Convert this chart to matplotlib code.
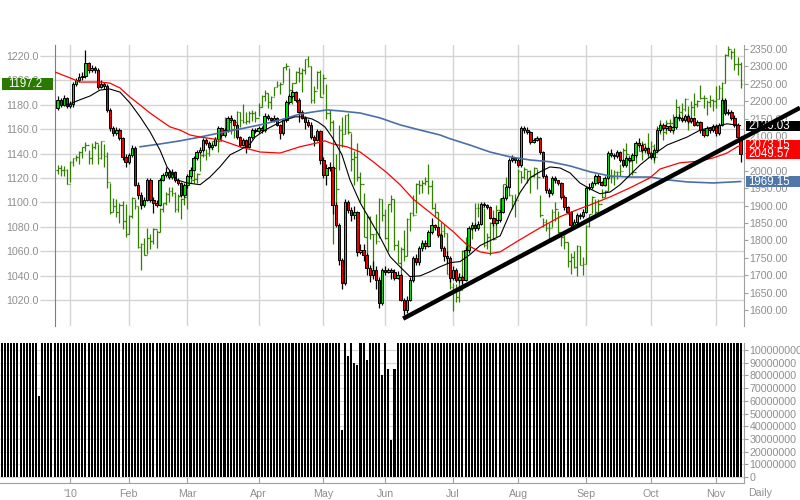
import numpy as np
import pandas as pd
import matplotlib
matplotlib.use('Agg')
import matplotlib.pyplot as plt
import matplotlib.transforms as mtransforms
from matplotlib.patches import Rectangle

plt.rcParams['font.family'] = ['Liberation Sans', 'DejaVu Sans']

# trading days, Dec 1 2009 .. Nov 11 2010 (x = day number, Jan 4 = 0)
holidays = ['2009-12-25', '2010-01-01', '2010-01-18', '2010-02-15',
            '2010-04-02', '2010-05-31', '2010-07-05', '2010-09-06']
days = pd.bdate_range('2009-12-01', '2010-11-11')
days = days[~days.isin(pd.to_datetime(holidays))]
first = list(days).index(pd.Timestamp('2010-01-04'))
pos = np.arange(len(days)) - first

month_names = ["'10", 'Feb', 'Mar', 'Apr', 'May', 'Jun', 'Jul', 'Aug', 'Sep', 'Oct', 'Nov']

# candles (right axis), Dec 28 2009 .. Nov 11 2010
cndl_close = [2204, 2189, 2209, 2186,
    2192, 2249, 2261, 2270, 2272, 2310, 2290, 2295, 2290, 2241, 2249, 2244, 2175, 2123, 2109, 2117, 2094, 2040, 2026,
    2046, 2066, 1960, 1931, 1902, 1917, 1974, 1917, 1908, 1902, 1974, 1988, 1997, 1982, 1997, 1974, 1965, 1931, 1960,
    1985, 2003, 2037, 2054, 2060, 2089, 2080, 2069, 2074, 2092, 2123, 2103, 2117, 2152, 2146, 2132, 2097, 2074, 2089, 2069, 2097, 2117, 2115,
    2123, 2117, 2158, 2152, 2146, 2152, 2132, 2109, 2146, 2198, 2215, 2226, 2204, 2169, 2152, 2140, 2132, 2097, 2089, 2115, 2031,
    1988, 2008, 2011, 1902, 1845, 1744, 1678, 1911, 1888, 1873, 1882, 1767, 1773, 1759, 1721, 1701, 1716, 1687, 1621, 1716,
    1710, 1716, 1710, 1693, 1701, 1630, 1601, 1630, 1687, 1750, 1739, 1779, 1793, 1785, 1825, 1845, 1839, 1816, 1779, 1756, 1750, 1693,
    1716, 1687, 1696, 1687, 1773, 1836, 1845, 1836, 1848, 1905, 1902, 1896, 1865, 1850, 1859, 1882, 1922, 1954, 2031, 2037, 2031,
    2017, 2123, 2117, 2112, 2083, 2089, 2094, 2054, 1985, 1945, 1937, 1980, 1974, 1965, 1925, 1896, 1882, 1845, 1853, 1873, 1871, 1882,
    1951, 1954, 1965, 1985, 1968, 1960, 1980, 2051, 2046, 2043, 2054, 2031, 2017, 2037, 2031, 2046, 2080, 2074, 2060, 2066, 2051,
    2040, 2060, 2117, 2132, 2123, 2129, 2117, 2126, 2155, 2152, 2146, 2158, 2143, 2152, 2132, 2140, 2117, 2103, 2123, 2117, 2129,
    2109, 2132, 2204, 2166, 2169, 2152, 2132, 2097, 2049.57]
cndl_high = [2214, 2210, 2218, 2212,
    2200, 2255, 2268, 2280, 2285, 2347, 2312, 2305, 2300, 2295, 2262, 2255, 2248, 2180, 2130, 2125, 2122, 2098, 2048,
    2052, 2075, 2070, 1968, 1940, 1925, 1980, 1978, 1925, 1915, 1980, 1995, 2010, 2002, 2005, 2000, 1978, 1968, 1965,
    1990, 2010, 2042, 2060, 2068, 2095, 2094, 2085, 2080, 2098, 2128, 2125, 2122, 2158, 2160, 2150, 2136, 2100, 2095, 2092, 2100, 2122, 2122,
    2130, 2128, 2165, 2162, 2155, 2160, 2156, 2135, 2150, 2202, 2222, 2232, 2228, 2208, 2175, 2158, 2150, 2140, 2104, 2120, 2118,
    2040, 2020, 2025, 2015, 1910, 1850, 1750, 1920, 1915, 1895, 1900, 1885, 1790, 1790, 1765, 1730, 1740, 1725, 1695, 1722,
    1725, 1722, 1720, 1718, 1712, 1705, 1635, 1640, 1695, 1755, 1760, 1785, 1800, 1800, 1830, 1865, 1848, 1842, 1820, 1785, 1770, 1755,
    1725, 1720, 1705, 1700, 1780, 1842, 1852, 1850, 1855, 1910, 1910, 1905, 1898, 1868, 1865, 1888, 1928, 1960, 2036, 2045, 2040,
    2036, 2128, 2130, 2125, 2115, 2095, 2100, 2098, 2058, 1990, 1950, 1985, 1985, 1972, 1968, 1930, 1900, 1885, 1860, 1880, 1880, 1890,
    1955, 1965, 1972, 1990, 1990, 1972, 1985, 2056, 2062, 2050, 2060, 2058, 2035, 2042, 2040, 2050, 2086, 2095, 2080, 2072, 2068,
    2055, 2066, 2122, 2138, 2136, 2135, 2133, 2130, 2160, 2162, 2156, 2164, 2162, 2156, 2156, 2145, 2143, 2120, 2128, 2125, 2134,
    2135, 2138, 2210, 2208, 2178, 2174, 2160, 2136, 2100]
cndl_low = [2176, 2184, 2185, 2180,
    2180, 2184, 2245, 2255, 2262, 2268, 2282, 2285, 2282, 2236, 2238, 2236, 2170, 2115, 2100, 2104, 2088, 2030, 2012,
    2020, 2040, 1955, 1920, 1890, 1895, 1912, 1910, 1880, 1895, 1898, 1970, 1982, 1975, 1975, 1968, 1958, 1925, 1925,
    1950, 1980, 1998, 2030, 2048, 2055, 2075, 2062, 2064, 2070, 2088, 2098, 2098, 2112, 2140, 2128, 2090, 2068, 2070, 2050, 2065, 2092, 2108,
    2108, 2110, 2112, 2145, 2140, 2140, 2128, 2090, 2104, 2140, 2192, 2208, 2198, 2140, 2148, 2120, 2125, 2092, 2072, 2085, 2020,
    1980, 1960, 2000, 1875, 1838, 1730, 1660, 1672, 1880, 1855, 1860, 1755, 1760, 1740, 1700, 1680, 1690, 1660, 1605, 1615,
    1700, 1705, 1690, 1685, 1688, 1625, 1586, 1592, 1625, 1680, 1730, 1730, 1770, 1775, 1780, 1818, 1830, 1810, 1770, 1740, 1735, 1680,
    1685, 1680, 1680, 1675, 1682, 1765, 1830, 1828, 1830, 1845, 1895, 1890, 1860, 1840, 1845, 1852, 1878, 1915, 1950, 2025, 2022,
    2010, 2012, 2110, 2105, 2078, 2080, 2085, 2048, 1978, 1935, 1925, 1930, 1965, 1958, 1918, 1888, 1875, 1838, 1840, 1848, 1862, 1865,
    1878, 1945, 1948, 1960, 1962, 1955, 1955, 1975, 2040, 2035, 2038, 2025, 2010, 2012, 2025, 2028, 2040, 2068, 2055, 2055, 2045,
    2035, 2032, 2055, 2112, 2118, 2118, 2112, 2112, 2120, 2146, 2140, 2140, 2138, 2138, 2128, 2128, 2110, 2098, 2100, 2110, 2112,
    2100, 2104, 2128, 2160, 2160, 2146, 2126, 2090, 2025]
cndl_open = [2181] + cndl_close[:-1]

# green OHLC bars (left axis)
sp_close = [1127.8, 1126.2, 1126.4, 1115.1,
    1133.0, 1136.5, 1137.1, 1141.7, 1145.0, 1147.0, 1136.2, 1145.7, 1148.5, 1136.0, 1150.2, 1138.0, 1116.5, 1091.8, 1096.8, 1092.2, 1097.5, 1084.5, 1073.9,
    1089.2, 1103.3, 1097.3, 1063.1, 1066.2, 1056.7, 1070.5, 1068.1, 1078.5, 1075.5, 1094.9, 1099.5, 1106.8, 1109.2, 1108.0, 1094.6, 1105.2, 1102.9, 1104.5,
    1115.7, 1118.3, 1118.8, 1123.0, 1138.7, 1138.5, 1140.5, 1145.6, 1150.2, 1150.0, 1150.5, 1159.5, 1166.2, 1165.8, 1159.9, 1165.8, 1174.2, 1167.7, 1165.7, 1166.6, 1173.2, 1173.3, 1169.4,
    1178.1, 1187.4, 1189.4, 1182.5, 1186.4, 1194.4, 1196.5, 1197.3, 1210.7, 1211.7, 1192.1, 1197.5, 1207.2, 1205.9, 1208.7, 1217.3, 1212.1, 1183.7, 1191.4, 1206.8, 1186.7,
    1202.3, 1173.6, 1165.9, 1128.2, 1110.9, 1159.7, 1155.8, 1171.7, 1157.4, 1135.7, 1136.9, 1120.8, 1115.1, 1071.6, 1087.7, 1073.7, 1074.0, 1068.0, 1103.1, 1089.4,
    1070.7, 1098.4, 1102.8, 1064.9, 1050.5, 1062.0, 1055.7, 1086.8, 1091.6, 1089.6, 1115.2, 1114.6, 1116.0, 1117.5, 1113.2, 1095.3, 1092.0, 1073.7, 1076.8, 1074.6, 1041.2, 1030.7,
    1027.4, 1022.6, 1028.1, 1060.3, 1070.3, 1078.0, 1078.8, 1095.3, 1095.2, 1096.5, 1064.9, 1071.3, 1083.5, 1069.6, 1093.7, 1102.7, 1115.0, 1113.8, 1106.1, 1101.5, 1101.6,
    1125.9, 1120.5, 1127.2, 1125.8, 1121.6, 1127.8, 1121.1, 1089.5, 1083.6, 1079.3, 1079.4, 1092.5, 1094.2, 1075.6, 1071.7, 1067.4, 1051.9, 1055.3, 1047.2, 1064.6, 1048.9, 1049.3,
    1080.3, 1090.1, 1104.5, 1091.8, 1098.9, 1104.2, 1109.6, 1121.9, 1121.1, 1125.1, 1124.7, 1125.6, 1142.7, 1139.8, 1134.3, 1124.8, 1148.7, 1142.2, 1147.7, 1144.7, 1141.2,
    1146.2, 1137.0, 1160.8, 1160.0, 1158.1, 1165.2, 1165.3, 1169.8, 1178.1, 1173.8, 1176.2, 1184.7, 1165.9, 1178.2, 1180.3, 1183.1, 1185.6, 1185.6, 1182.5, 1183.8, 1183.3,
    1184.4, 1193.6, 1198.0, 1221.1, 1225.9, 1223.3, 1213.4, 1213.5, 1197.2]
sp_high = [1130.4, 1130.4, 1130.0, 1127.6,
    1133.9, 1136.6, 1139.2, 1142.5, 1145.4, 1149.7, 1143.1, 1148.4, 1150.4, 1147.9, 1150.4, 1148.0, 1141.6, 1115.5, 1103.7, 1103.0, 1099.3, 1101.3, 1098.4,
    1089.4, 1104.7, 1102.7, 1097.2, 1067.1, 1071.2, 1079.3, 1073.7, 1078.7, 1077.6, 1095.0, 1099.5, 1108.2, 1112.4, 1112.4, 1108.6, 1107.0, 1103.5, 1107.2,
    1116.1, 1123.7, 1125.6, 1123.7, 1139.4, 1141.1, 1144.0, 1148.3, 1150.2, 1153.4, 1151.0, 1160.3, 1169.6, 1167.1, 1169.2, 1167.8, 1174.7, 1174.2, 1180.7, 1173.9, 1175.0, 1175.9, 1174.9,
    1181.4, 1187.7, 1191.8, 1189.6, 1187.0, 1194.7, 1199.2, 1199.0, 1210.7, 1213.9, 1210.2, 1197.9, 1207.9, 1210.9, 1210.0, 1217.3, 1219.8, 1211.4, 1195.1, 1207.3, 1208.9,
    1205.1, 1197.0, 1175.8, 1167.6, 1139.4, 1163.8, 1170.1, 1171.9, 1173.6, 1157.2, 1141.8, 1148.7, 1124.9, 1107.3, 1090.2, 1089.0, 1074.0, 1090.8, 1103.5, 1102.6,
    1094.8, 1098.4, 1105.7, 1103.0, 1069.1, 1063.3, 1077.7, 1087.0, 1092.2, 1105.9, 1115.6, 1118.7, 1118.7, 1121.0, 1131.2, 1118.5, 1099.6, 1092.0, 1083.6, 1082.6, 1074.6, 1048.1,
    1033.6, 1032.9, 1042.5, 1060.9, 1071.3, 1078.2, 1080.8, 1099.1, 1099.1, 1098.8, 1095.2, 1074.7, 1083.9, 1093.6, 1097.5, 1103.7, 1115.0, 1120.9, 1114.7, 1106.4, 1106.9,
    1127.2, 1125.4, 1128.7, 1126.6, 1126.5, 1129.2, 1127.3, 1105.8, 1086.9, 1086.3, 1082.8, 1094.4, 1100.1, 1092.6, 1075.6, 1073.2, 1067.4, 1058.6, 1059.9, 1065.2, 1064.6, 1055.1,
    1081.3, 1090.1, 1105.1, 1103.1, 1103.1, 1110.9, 1110.0, 1127.4, 1127.6, 1126.5, 1125.8, 1131.5, 1144.4, 1148.9, 1138.5, 1136.1, 1148.9, 1149.9, 1150.0, 1148.6, 1157.2,
    1150.3, 1148.2, 1162.8, 1167.7, 1163.9, 1167.7, 1168.7, 1172.6, 1184.4, 1178.7, 1181.2, 1185.5, 1178.8, 1182.9, 1189.4, 1183.9, 1196.1, 1187.9, 1183.8, 1188.3, 1185.0,
    1195.8, 1196.1, 1198.3, 1221.3, 1227.9, 1224.6, 1226.8, 1218.9, 1215.4]
sp_low = [1123.5, 1121.9, 1122.0, 1114.8,
    1116.6, 1129.7, 1133.9, 1131.3, 1136.2, 1142.0, 1131.4, 1131.4, 1143.8, 1131.4, 1135.7, 1129.3, 1111.4, 1090.3, 1091.8, 1087.9, 1083.1, 1078.0, 1071.6,
    1073.9, 1087.2, 1094.7, 1062.8, 1044.5, 1056.5, 1058.0, 1062.0, 1065.9, 1062.6, 1076.0, 1092.4, 1097.7, 1100.2, 1105.4, 1092.2, 1092.2, 1086.0, 1097.6,
    1094.3, 1115.7, 1116.1, 1116.1, 1125.4, 1137.0, 1135.0, 1138.0, 1143.2, 1147.1, 1141.2, 1150.3, 1159.5, 1161.5, 1156.0, 1152.9, 1163.8, 1161.7, 1165.2, 1164.0, 1165.2, 1166.6, 1165.8,
    1170.7, 1178.0, 1182.8, 1177.7, 1176.6, 1187.2, 1194.7, 1188.5, 1197.9, 1208.5, 1186.0, 1180.3, 1197.7, 1198.9, 1190.6, 1205.1, 1211.2, 1181.6, 1181.8, 1193.3, 1186.3,
    1188.6, 1168.1, 1158.2, 1065.8, 1094.2, 1126.6, 1145.8, 1156.3, 1156.1, 1126.1, 1114.0, 1117.2, 1100.7, 1071.6, 1055.9, 1070.2, 1040.8, 1065.5, 1070.6, 1084.8,
    1069.9, 1060.4, 1091.8, 1060.8, 1050.0, 1042.2, 1052.3, 1056.4, 1076.8, 1089.1, 1091.6, 1106.9, 1107.4, 1113.9, 1106.7, 1094.2, 1088.3, 1071.6, 1071.7, 1071.5, 1041.0, 1028.8,
    1010.9, 1018.4, 1018.4, 1028.3, 1058.2, 1068.1, 1070.0, 1081.0, 1087.7, 1086.7, 1063.3, 1062.0, 1056.9, 1069.3, 1071.6, 1087.9, 1103.5, 1109.2, 1105.1, 1094.7, 1088.0,
    1107.2, 1116.1, 1119.5, 1116.1, 1107.7, 1120.9, 1111.0, 1088.0, 1079.6, 1076.7, 1069.2, 1080.0, 1085.0, 1075.3, 1063.9, 1061.7, 1046.7, 1041.1, 1046.0, 1039.7, 1048.8, 1040.9,
    1049.3, 1080.0, 1091.1, 1090.8, 1091.2, 1103.9, 1104.4, 1109.6, 1115.5, 1114.1, 1118.9, 1122.0, 1131.6, 1132.1, 1121.3, 1122.5, 1132.6, 1142.0, 1134.5, 1140.1, 1136.1,
    1139.4, 1131.9, 1140.7, 1155.7, 1151.4, 1155.7, 1162.0, 1155.7, 1171.3, 1166.7, 1167.1, 1174.9, 1159.7, 1166.7, 1171.2, 1178.2, 1184.8, 1177.7, 1171.7, 1178.4, 1174.6,
    1177.7, 1184.4, 1183.6, 1198.0, 1220.3, 1217.9, 1208.9, 1204.3, 1194.1]
sp_open = [1126.5] + sp_close[:-1]

# moving averages (day number, right-axis value)
ma_black_x = [-1, 3.2, 6.5, 9.7, 12.9, 16.2, 19.4, 22.7, 25.9, 29.1, 31.4, 34.6, 37.9, 42.1, 45.3, 48.5, 51.8, 55, 58.3,
              59.9, 63.1, 66.3, 69.6, 72.8, 75.4, 78.3, 80.3, 82.5, 84.8, 88, 90.6, 93.9, 97.1, 100.3, 103.6, 106.8, 110,
              113.3, 116.5, 119.7, 123, 126.2, 129.4, 132.7, 135.9, 139.2, 142.4, 145.6, 148.9, 152.1, 155.3, 158.6, 161.8,
              165, 168.3, 171.5, 174.8, 178, 181.2, 184.5, 187.7, 193.2, 199.7, 203.9, 208.1, 212.6, 217]
ma_black_y = [2189, 2204, 2215, 2232, 2235, 2226, 2195, 2155, 2112, 2060, 2011, 1974, 1965, 1960, 1982, 2011, 2046, 2060, 2077,
              2097, 2117, 2132, 2146, 2155, 2155, 2149, 2140, 2126, 2097, 2046, 1974, 1908, 1859, 1810, 1753, 1724, 1696,
              1698, 1710, 1724, 1736, 1739, 1759, 1785, 1799, 1813, 1879, 1937, 1980, 1997, 2011, 2008, 1994,
              1965, 1948, 1934, 1939, 1960, 1988, 2017, 2040, 2074, 2097, 2117, 2126, 2135, 2130.03]
ma_red_x = [-4.9, 0, 3.2, 6.5, 9.7, 12.9, 16.2, 19.4, 22.7, 25.9, 29.1, 32.4, 35.6, 38.8, 42.1, 48.5, 55, 61.5, 68, 71.2,
            74.4, 79.9, 82.5, 85.1, 89.6, 93.9, 98.1, 102.6, 106.8, 111, 117.5, 124, 128.5, 132.7, 135.9, 139.2, 145.6,
            152.1, 158.6, 164.1, 168.3, 174.8, 181.2, 187.7, 190.9, 197.4, 203.9, 208.1, 212.6, 215.9, 217]
ma_red_y = [2284, 2267, 2255, 2255, 2255, 2252, 2238, 2212, 2189, 2166, 2146, 2126, 2117, 2103, 2097, 2089, 2069, 2054, 2051, 2060,
            2069, 2080, 2086, 2077, 2069, 2054, 2026, 1994, 1960, 1919, 1873, 1825, 1787, 1767, 1762, 1767, 1802,
            1836, 1868, 1888, 1902, 1925, 1951, 1980, 2005, 2023, 2028, 2037, 2051, 2069, 2073.15]
ma_blue_x = [22.7, 29.1, 35.6, 42.1, 48.5, 55, 61.5, 68, 74.4, 78.6, 83.2, 87.4, 93.9, 100.3, 106.8, 113.3, 119.7, 123,
             129.4, 135.9, 142.4, 148.9, 155.3, 161.8, 168.3, 174.8, 181.2, 187.7, 193.2, 199.7, 208.1, 214.6, 217]
ma_blue_y = [2069, 2077, 2086, 2097, 2109, 2120, 2132, 2146, 2163, 2169, 2175, 2172, 2166, 2152, 2132, 2117, 2103, 2092,
             2074, 2054, 2040, 2031, 2026, 2014, 1997, 1985, 1982, 1982, 1974, 1968, 1965, 1968, 1969.15]

trend_x = [107.8, 236.2]
trend_y = [1575, 2181]

# volume in millions, Dec 1 2009 .. Nov 11 2010 (150 = above the top of the panel)
volume = [150, 150, 150, 150, 150, 150, 150, 150, 150, 150, 150, 150, 64, 150, 150, 150, 150, 150, 150, 150, 150, 150,
    150, 150, 150, 150, 150, 150, 150, 150, 150, 150, 150, 150, 150, 150, 150, 150, 150, 150, 150,
    150, 150, 150, 150, 150, 150, 150, 150, 150, 150, 150, 150, 150, 150, 150, 150, 150, 150, 150,
    150, 150, 150, 150, 150, 150, 150, 150, 150, 150, 150, 150, 150, 150, 150, 150, 150, 150, 150, 150, 150, 150, 150,
    150, 150, 150, 150, 150, 150, 150, 150, 150, 150, 150, 150, 150, 150, 150, 150, 150, 150, 150, 150, 150,
    150, 150, 150, 150, 150, 150, 37, 150, 95, 150, 90, 88, 150, 150, 92, 150, 150, 150, 150, 80,
    150, 85, 29, 85, 150, 150, 150, 150, 150, 150, 150, 150, 150, 150, 150, 150, 150, 150, 150, 150, 150, 150,
    150, 150, 150, 150, 150, 150, 150, 150, 150, 150, 150, 150, 150, 150, 150, 150, 150, 150, 150, 150, 150,
    150, 150, 150, 150, 150, 150, 150, 150, 150, 150, 150, 150, 150, 150, 150, 150, 150, 150, 150, 150, 150, 150,
    150, 150, 150, 150, 150, 150, 150, 150, 150, 150, 150, 150, 150, 150, 150, 150, 150, 150, 150, 150, 150,
    150, 150, 150, 150, 150, 150, 150, 150, 150, 150, 150, 150, 150, 150, 150, 150, 150, 150, 150, 150, 150,
    150, 150, 150, 150, 150, 150, 150, 150, 150]

GRID = '#d4d4d4'
TXT = '#8f8f8f'
FS = 7.7

fig = plt.figure(figsize=(8, 5), dpi=100)
ax = fig.add_axes([55 / 800, 1 - 326 / 500, 689 / 800, 281 / 500])
ax2 = ax.twinx()
axv = fig.add_axes([0, 1 - 483 / 500, 744 / 800, 140 / 500])

x0, x1 = -4.85, 218.1
xv0 = -22.65

month_pos = []
for m in range(1, 12):
    month_pos.append(pos[np.argmax((days.year == 2010) & (days.month == m))])

xs = pos[-len(cndl_close):]

# green OHLC
ax.vlines(xs, sp_low, sp_high, color='#338000', lw=0.9, zorder=2)
ax.hlines(sp_open, xs - 0.45, xs, color='#338000', lw=0.9, zorder=2)
ax.hlines(sp_close, xs, xs + 0.45, color='#338000', lw=0.9, zorder=2)

ax.set_xlim(x0, x1)
ax.set_ylim(998.7, 1229.0)
ax.set_yticks(np.arange(1020, 1221, 20))
ax.set_yticklabels(['%.1f' % v for v in np.arange(1020, 1221, 20)])
ax.set_xticks(month_pos)
ax.tick_params(axis='x', length=0, labelbottom=False)
ax.tick_params(axis='y', length=11, width=1, color=GRID, labelsize=FS, labelcolor=TXT, pad=1)
ax.grid(True, color=GRID, lw=1)
ax.set_axisbelow(True)
for s in ['top', 'bottom', 'right']:
    ax.spines[s].set_visible(False)
ax.spines['left'].set_color('#7f7f7f')

# candles
o = np.array(cndl_open, float)
c = np.array(cndl_close, float)
cols = np.where(c >= o, '#00e000', '#ee0000')
ax2.vlines(xs, cndl_low, cndl_high, color='black', lw=0.9, zorder=3)
ax2.bar(xs, c - o, bottom=o, width=0.78, color=cols, edgecolor='black', linewidth=0.7, zorder=3.5)

ax2.plot(ma_blue_x, ma_blue_y, color='#4a70a8', lw=1.2, zorder=4)
ax2.plot(ma_red_x, ma_red_y, color='#ff0000', lw=0.9, zorder=4)
ax2.plot(ma_black_x, ma_black_y, color='black', lw=0.8, zorder=4)
ax2.plot(trend_x, trend_y, color='black', lw=3.2, zorder=10, clip_on=False, solid_capstyle='butt')

ax2.set_xlim(x0, x1)
ax2.set_ylim(1553.9, 2361.5)
ax2.set_yticks(np.arange(1600, 2351, 50))
ax2.set_yticklabels(['%.2f' % v for v in np.arange(1600, 2351, 50)])
ax2.tick_params(axis='y', length=3, color='#a0a0a0', labelsize=FS, labelcolor=TXT, pad=1)
for s in ['top', 'bottom', 'left']:
    ax2.spines[s].set_visible(False)
ax2.spines['right'].set_color('#a0a0a0')


def tag(axis, value, text, color, fx0, fx1, tx, half_px):
    lo, hi = axis.get_ylim()
    half = half_px * (hi - lo) / 281
    tr = mtransforms.blended_transform_factory(fig.transFigure, axis.transData)
    axis.add_patch(Rectangle((fx0 / 800, value - half), (fx1 - fx0) / 800, 2 * half,
                             transform=tr, facecolor=color, edgecolor='none',
                             clip_on=False, zorder=6))
    axis.text(tx / 800, value, text, transform=tr, color='white', fontsize=FS + 0.6,
              ha='left', va='center', clip_on=False, zorder=7)


tag(ax, 1197.2, '1197.2', '#2a7a00', 2, 53, 8, 6)
tag(ax2, 2130.03, '2130.03', '#000000', 746, 800, 748, 5)
tag(ax2, 2049.57, '2049.57', '#ff0000', 746, 800, 748, 5)
tag(ax2, 2073.15, '2073.15', '#ff0000', 746, 800, 748, 5)
tag(ax2, 1969.15, '1969.15', '#4f78a8', 746, 800, 748, 5.5)

# volume
axv.bar(pos, np.array(volume) * 1e6, width=0.66, color='black', zorder=3)
axv.set_xlim(xv0, x1)
axv.set_ylim(-4.7e6, 1.055e8)
axv.yaxis.tick_right()
vt = np.arange(0, 1.0e8 + 1, 1e7)
axv.set_yticks(vt)
axv.set_yticklabels(['%d' % v for v in vt])
axv.tick_params(axis='y', length=3, color='#a0a0a0', labelsize=FS, labelcolor=TXT, pad=1)
axv.yaxis.grid(True, color=GRID, lw=0.8)
axv.set_axisbelow(True)
axv.set_xticks(month_pos)
axv.set_xticklabels(month_names)
axv.tick_params(axis='x', direction='in', length=4.5, color='#a0a0a0', labelsize=FS, labelcolor=TXT, pad=4)
for s in ['top', 'left']:
    axv.spines[s].set_visible(False)
axv.spines['right'].set_color('#a0a0a0')
axv.spines['bottom'].set_color('#a0a0a0')

fig.text(748 / 800, 1 - 493 / 500, 'Daily', color=TXT, fontsize=FS, ha='left', va='center')

fig.savefig('out.png', dpi=100)
